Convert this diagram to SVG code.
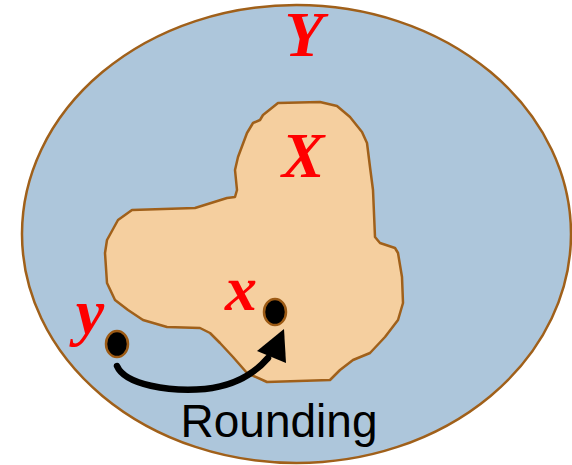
<svg xmlns="http://www.w3.org/2000/svg" width="572" height="465" viewBox="0 0 572 465">
<style>
.lbl{font-family:"Liberation Serif",serif;font-weight:bold;font-style:italic;fill:#ff0000;font-size:64px;text-anchor:middle}
.dot{fill:#000;stroke:#9c5a14;stroke-width:2.5}
</style>
<g id="Y">
<ellipse cx="296.5" cy="234" rx="274.5" ry="229" fill="#adc6db" stroke="#a0601a" stroke-width="2.5"/>
<text class="lbl" x="304" y="56" font-size="60">Y</text>
</g>
<g id="X">
<path d="M278,103 L320,102 L337,106 L350,117 L362,132 L367,143 L370,167 L373,190 L375,237 L380,243 L395,248 L398,253 L402,277 L403,303 L398,320 L385,337 L370,353 L353,360 L340,370 L330,380 L267,382 L247,373 L233,357 L220,343 L210,333 L200,328 L167,327 L143,320 L128,310 L115,300 L107,283 L105,253 L107,240 L118,220 L132,210 L195,208 L227,198 L235,197 L237,190 L235,170 L238,157 L247,133 L253,123 L260,120 L263,115 Z" fill="#f5cf9f" stroke="#a0601a" stroke-width="2.5" stroke-linejoin="round"/>
<text class="lbl" x="303" y="177">X</text>
</g>
<g id="x">
<ellipse class="dot" cx="275" cy="312" rx="11" ry="13"/>
<text class="lbl" x="241" y="310">x</text>
</g>
<g id="y">
<ellipse class="dot" cx="117" cy="344" rx="11" ry="13"/>
<text class="lbl" x="90" y="333">y</text>
</g>
<g id="connectors">
<path d="M117,366 C125,385 170,392 205,389 C235,386 255,373 268,358" fill="none" stroke="#000" stroke-width="6.5" stroke-linecap="round"/>
<polygon points="284,329 257,351 286,363" fill="#000"/>
<text x="279" y="437" font-family="Liberation Sans, Arial, sans-serif" font-size="46" text-anchor="middle" fill="#000">Rounding</text>
</g>
</svg>
